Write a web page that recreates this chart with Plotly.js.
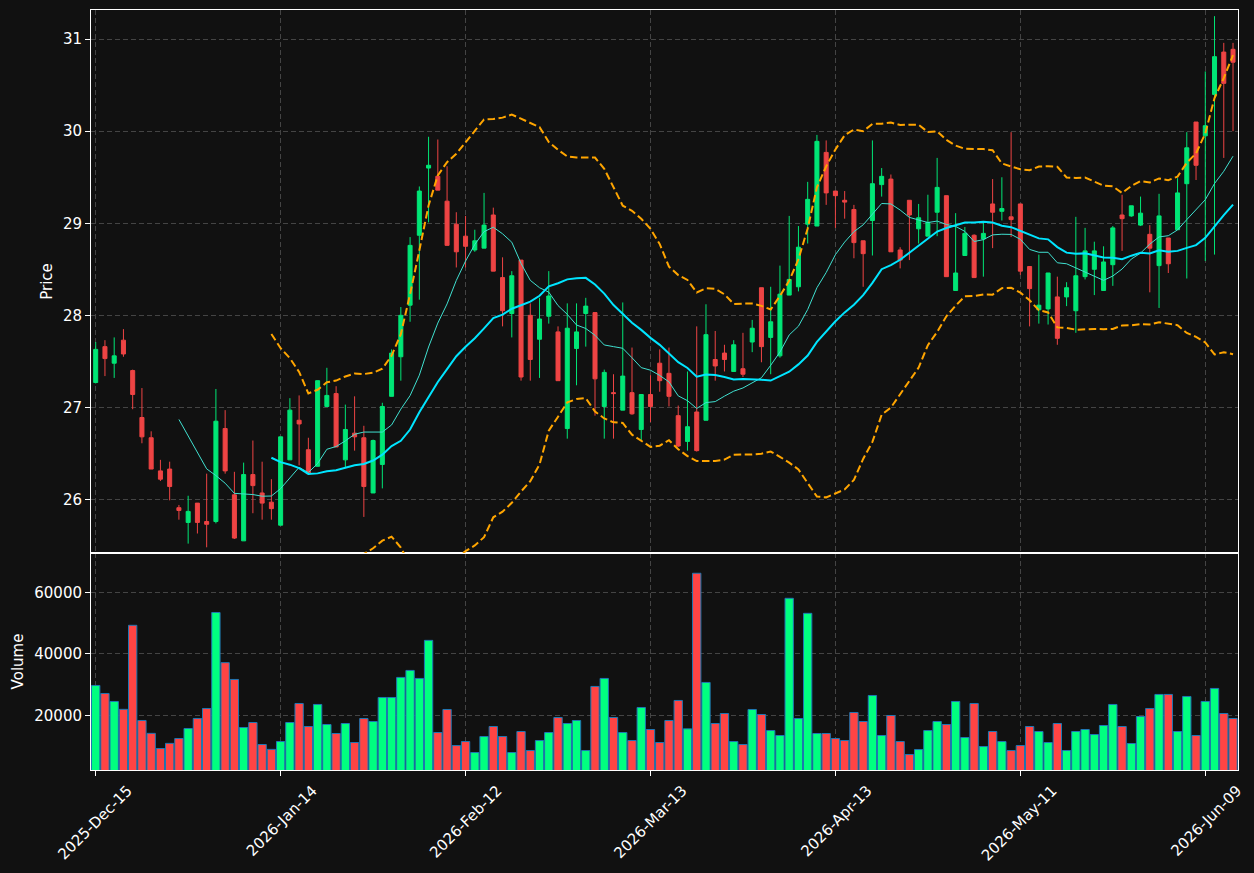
<!DOCTYPE html>
<html>
<head>
<meta charset="utf-8">
<script src="https://cdn.plot.ly/plotly-3.0.1.min.js"></script>
<style>html,body{margin:0;padding:0;background:#111111;}#chart{width:1254px;height:873px;}</style>
</head>
<body>
<div id="chart"></div>
<script>
// ---- data ----
const tickIdx = [0, 20, 40, 60, 80, 100, 120];
const tickText = ['2025-Dec-15', '2026-Jan-14', '2026-Feb-12', '2026-Mar-13', '2026-Apr-13', '2026-May-11', '2026-Jun-09'];

const openP = [27.27,27.66,27.48,27.73,27.40,26.89,26.67,26.31,26.33,25.91,
25.75,25.96,25.76,25.76,26.77,26.05,25.55,26.27,26.07,25.97,
25.72,26.43,26.86,26.54,26.36,27.01,27.15,26.43,26.72,26.67,
26.07,26.38,27.12,27.55,28.11,28.87,29.60,29.51,29.24,28.99,
28.86,28.71,28.73,29.09,28.41,28.02,28.60,28.00,27.74,27.99,
27.82,26.77,27.64,28.02,28.03,27.01,27.16,26.97,27.16,26.76,
27.14,27.48,27.37,26.91,26.63,26.95,26.86,27.52,27.59,27.39,
27.42,27.71,28.30,27.76,27.56,28.22,28.31,28.99,28.97,29.77,
29.35,29.25,29.15,28.81,29.03,29.42,29.48,28.71,29.25,28.94,
28.86,29.12,29.30,28.27,28.65,28.87,28.83,29.21,29.13,29.07,
29.21,28.53,28.06,28.07,28.20,28.20,28.05,28.42,28.50,28.27,
28.55,29.09,29.08,28.98,28.88,28.54,28.84,28.93,29.43,30.10,
29.95,30.40,30.86,30.89];
const highP = [27.71,27.73,27.76,27.85,27.41,27.21,26.74,26.43,26.41,25.94,
26.04,25.96,26.28,27.20,26.97,26.30,26.40,26.64,26.41,26.22,
26.68,27.10,27.13,26.67,27.29,27.43,27.23,27.03,27.12,26.80,
26.65,27.05,27.63,28.09,28.85,29.40,29.94,29.91,29.62,29.12,
29.08,28.93,29.33,29.17,28.63,28.48,28.60,28.13,28.19,28.48,
27.88,28.13,28.13,28.19,28.03,27.41,27.36,28.14,27.65,27.14,
27.35,27.63,27.65,27.02,27.39,27.88,28.12,27.83,27.68,27.73,
27.81,27.95,28.30,28.31,28.54,29.08,28.97,29.45,29.96,29.90,
29.35,29.35,29.20,28.81,29.90,29.60,29.53,28.74,29.25,29.21,
29.31,29.71,29.30,29.11,28.96,28.88,29.01,29.48,29.50,29.99,
29.21,28.53,28.66,28.46,28.42,28.36,29.07,28.95,28.80,28.75,
28.97,29.31,29.19,29.29,28.98,29.32,28.84,29.49,29.99,30.10,
30.65,31.25,30.96,30.96];
const lowP = [27.26,27.34,27.32,27.55,26.98,26.61,26.33,26.20,25.99,25.78,
25.52,25.63,25.48,25.74,26.28,25.57,25.55,25.85,25.78,25.78,
25.72,26.43,26.37,26.28,26.36,27.01,26.57,26.34,26.53,25.81,
26.07,26.12,27.12,27.29,27.93,28.17,29.01,29.36,28.76,28.52,
28.52,28.69,28.73,28.48,27.88,27.76,27.29,27.29,27.32,27.91,
27.29,26.66,27.24,27.66,26.91,26.66,26.66,26.97,26.92,26.64,
26.84,27.17,27.01,26.57,26.53,26.52,26.86,27.29,27.39,27.39,
27.33,27.60,27.49,27.36,27.54,28.22,28.26,28.78,28.97,29.20,
28.95,29.05,28.62,28.31,28.65,29.29,28.69,28.51,28.60,28.78,
28.86,28.86,28.42,28.27,28.65,28.41,28.42,28.73,29.03,28.85,
28.44,27.88,27.91,27.90,27.68,28.10,27.81,28.39,28.22,28.27,
28.32,28.70,29.07,28.97,28.25,28.08,28.46,28.93,28.40,29.47,
28.59,28.66,29.71,30.00];
const closeP = [27.63,27.53,27.56,27.58,27.14,26.68,26.33,26.22,26.14,25.88,
25.87,25.75,25.73,26.85,26.31,25.58,26.27,26.15,25.96,25.90,
26.68,26.97,26.82,26.28,27.29,27.13,26.57,26.76,26.68,26.14,
26.64,27.01,27.59,28.00,28.76,29.35,29.63,29.36,28.76,28.69,
28.75,28.81,28.98,28.48,28.05,28.43,27.33,27.52,27.96,28.21,
27.29,27.86,27.82,28.10,27.31,27.38,27.15,27.34,26.93,27.14,
27.01,27.29,27.12,26.58,26.79,26.53,27.79,27.45,27.52,27.68,
27.36,27.86,27.66,27.93,28.23,28.39,28.74,29.26,29.89,29.33,
29.30,29.23,28.79,28.67,29.43,29.51,28.69,28.60,29.09,29.06,
29.01,29.39,28.42,28.46,28.89,28.41,28.89,29.12,29.16,29.04,
28.48,28.29,28.11,28.46,27.75,28.30,28.43,28.70,28.70,28.58,
28.95,29.05,29.19,29.11,28.73,29.08,28.56,29.33,29.82,29.63,
30.06,30.81,30.52,30.75];
const volume = [29750,27150,24550,22000,49280,18380,14200,9280,10950,12530,
15780,19030,22280,53450,37150,31700,16100,17720,10580,9000,
11550,17720,23900,16420,23580,17070,14150,17400,11220,19020,
18050,25850,25850,32360,34630,32030,44390,14470,21950,10240,
11540,7970,13170,16420,13170,7970,14800,8620,11870,14470,
19350,17400,18370,8620,29430,32030,19350,14470,11870,22600,
15450,11220,18370,24880,15660,66180,30730,17400,20650,11540,
10570,21950,20330,15120,13500,58050,19020,53170,14150,14150,
12520,11870,20980,18050,26500,13500,20000,11540,7320,8940,
15120,18050,17070,24550,12850,23900,9920,14800,11540,8620,
10240,16420,14800,11220,17400,8620,14800,15450,13820,16750,
23580,16420,10900,19670,22280,26830,26830,14800,26180,13500,
24550,28780,20650,19020];

// ---- indicators derived from the closes ----
function sma(arr, n) {
  return arr.map((v, i) => {
    if (i < n - 1) return null;
    let s = 0; for (let k = i - n + 1; k <= i; k++) s += arr[k];
    return s / n;
  });
}
function bands(arr, n, m) {
  const mid = sma(arr, n);
  const up = [], lo = [];
  arr.forEach((v, i) => {
    if (i < n - 1) { up.push(null); lo.push(null); return; }
    let ss = 0; for (let k = i - n + 1; k <= i; k++) ss += (arr[k] - mid[i]) ** 2;
    const sd = Math.sqrt(ss / n);
    up.push(mid[i] + m * sd); lo.push(mid[i] - m * sd);
  });
  return {up, lo};
}

const idx = closeP.map((_, i) => i);
const ma10 = sma(closeP, 10);
const ma20 = sma(closeP, 20);
const bb = bands(closeP, 20, 2);

const UP = '#00e676', DOWN = '#ee4444';
const VUP = '#00ff80', VDOWN = '#ff4444';
const volColors = closeP.map((c, i) => c >= openP[i] ? VUP : VDOWN);

const traces = [
  {type: 'candlestick', x: idx, open: openP, high: highP, low: lowP, close: closeP,
   xaxis: 'x2', yaxis: 'y', whiskerwidth: 0,
   increasing: {line: {color: UP, width: 1}, fillcolor: UP},
   decreasing: {line: {color: DOWN, width: 1}, fillcolor: DOWN},
   hoverinfo: 'skip', showlegend: false},
  {type: 'scatter', mode: 'lines', x: idx, y: ma10, xaxis: 'x2', yaxis: 'y',
   line: {color: '#40e0d0', width: 1}, showlegend: false, hoverinfo: 'skip'},
  {type: 'scatter', mode: 'lines', x: idx, y: ma20, xaxis: 'x2', yaxis: 'y',
   line: {color: '#00e5ff', width: 2}, showlegend: false, hoverinfo: 'skip'},
  {type: 'scatter', mode: 'lines', x: idx, y: bb.up, xaxis: 'x2', yaxis: 'y',
   line: {color: '#ffa500', width: 2, dash: '7.5px,3.5px'}, showlegend: false, hoverinfo: 'skip'},
  {type: 'scatter', mode: 'lines', x: idx, y: bb.lo, xaxis: 'x2', yaxis: 'y',
   line: {color: '#ffa500', width: 2, dash: '7.5px,3.5px'}, showlegend: false, hoverinfo: 'skip'},
  {type: 'bar', x: idx, y: volume, xaxis: 'x', yaxis: 'y2', width: 0.9,
   marker: {color: volColors, line: {color: '#1f77b4', width: 1}},
   showlegend: false, hoverinfo: 'skip'}
];

const XR = [-0.508, 123.538];
const GRID = '#444444';
const font = {family: 'DejaVu Sans, sans-serif', size: 15, color: '#ffffff'};
const split = 217 / 760;

const layout = {
  width: 1254, height: 873,
  paper_bgcolor: '#111111', plot_bgcolor: '#111111',
  font: font,
  margin: {l: 91, r: 16, t: 10, b: 103},
  showlegend: false,
  boxgap: 0.38,
  xaxis: {
    domain: [0, 1], anchor: 'y2', range: XR, type: 'linear',
    tickmode: 'array', tickvals: tickIdx, ticktext: tickText,
    tickangle: -45, ticklabelshift: 32, ticks: 'outside', ticklen: 5, tickcolor: '#ffffff',
    showgrid: true, gridcolor: GRID, griddash: '5px,3px', gridwidth: 1,
    showline: true, linecolor: '#ffffff', linewidth: 1, mirror: true,
    zeroline: false, rangeslider: {visible: false}, fixedrange: true,
    tickfont: font
  },
  xaxis2: {
    domain: [0, 1], anchor: 'y', range: XR, type: 'linear',
    tickmode: 'array', tickvals: tickIdx, showticklabels: false, ticks: '',
    showgrid: true, gridcolor: GRID, griddash: '5px,3px', gridwidth: 1,
    showline: true, linecolor: '#ffffff', linewidth: 1, mirror: true,
    zeroline: false, rangeslider: {visible: false}, fixedrange: true
  },
  yaxis: {
    domain: [split, 1], anchor: 'x2', range: [25.418, 31.317],
    tickmode: 'array', tickvals: [26, 27, 28, 29, 30, 31],
    ticks: 'outside', ticklen: 5, tickcolor: '#ffffff',
    showgrid: true, gridcolor: GRID, griddash: '5px,3px', gridwidth: 1,
    showline: true, linecolor: '#ffffff', linewidth: 1, mirror: true,
    zeroline: false, fixedrange: true, tickfont: font, automargin: true,
    title: {text: 'Price', font: font, standoff: 6}
  },
  yaxis2: {
    domain: [0, split], anchor: 'x', range: [2300, 72760],
    tickmode: 'array', tickvals: [20000, 40000, 60000], ticktext: ['20000', '40000', '60000'],
    ticks: 'outside', ticklen: 5, tickcolor: '#ffffff',
    showgrid: true, gridcolor: GRID, griddash: '5px,3px', gridwidth: 1,
    showline: true, linecolor: '#ffffff', linewidth: 1, mirror: true,
    zeroline: false, fixedrange: true, tickfont: font, automargin: true,
    title: {text: 'Volume', font: font, standoff: 7}
  }
};

Plotly.newPlot('chart', traces, layout, {displayModeBar: false, staticPlot: true});
</script>
</body>
</html>
